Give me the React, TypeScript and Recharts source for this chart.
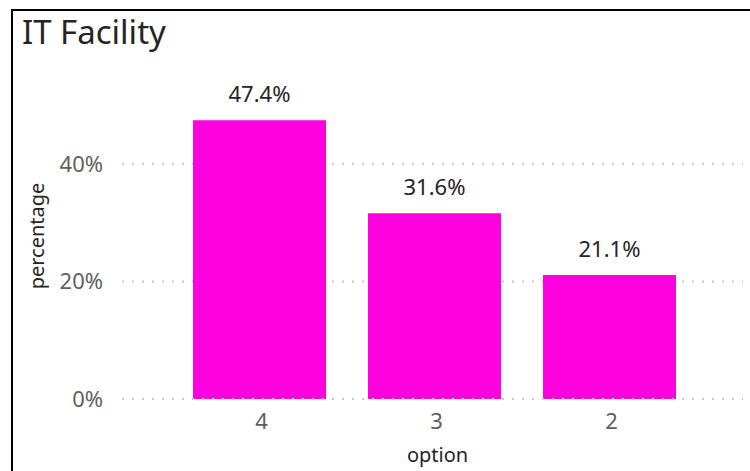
import { BarChart, Bar, XAxis, YAxis, CartesianGrid, LabelList, ReferenceLine } from "recharts";

const OPTIONS = ["4", "3", "2"];
const PERCENTAGES = [47.4, 31.6, 21.1];
const Y_TICKS = [0, 20, 40];

const FONT = "'Segoe UI', 'Noto Sans', sans-serif";
const BAR_COLOR = "#FF00DE";
const GRID_COLOR = "#c8c8c8";

const data = OPTIONS.map((option, i) => ({ option, percentage: PERCENTAGES[i] }));

const YTitle = () => (
  <text
    x={44}
    y={236}
    transform="rotate(-90 44 236)"
    textAnchor="middle"
    fill="#252423"
    fontSize={20}
    fontFamily={FONT}
  >
    percentage
  </text>
);

const App = () => {
  return (
    <div style={{ position: "absolute", left: 0, top: 0, width: 750, height: 471, overflow: "hidden", background: "#fff", fontFamily: FONT }}>
      <div style={{ position: "absolute", left: 11, top: 9, width: 800, height: 500, border: "2px solid #000" }} />
      <div style={{ position: "absolute", left: 22, top: 16, fontSize: 33, lineHeight: "32px", color: "#252423" }}>IT Facility</div>
      <div style={{ position: "absolute", left: 0, top: 0 }}>
        <BarChart width={750} height={471} data={data} margin={{ top: 105, right: 7, bottom: 0, left: 0 }} barCategoryGap="12%">
          <CartesianGrid
            vertical={false}
            horizontalValues={Y_TICKS}
            stroke={GRID_COLOR}
            strokeWidth={2}
            strokeDasharray="2 8"
          />
          <XAxis
            dataKey="option"
            height={72}
            axisLine={false}
            tickLine={false}
            tickSize={6}
            tickMargin={8}
            padding={{ left: 50, right: 46 }}
            tick={{ fill: "#605E5C", fontSize: 22, fontFamily: FONT, dx: 2 }}
            label={{ value: "option", position: "insideBottom", offset: 9, dx: 5, fill: "#252423", fontSize: 20, fontFamily: FONT }}
          />
          <YAxis
            width={122}
            domain={[0, 50]}
            ticks={Y_TICKS}
            axisLine={false}
            tickLine={false}
            tickSize={6}
            tickMargin={13}
            tickFormatter={(v: number) => `${v}%`}
            tick={{ fill: "#605E5C", fontSize: 22, fontFamily: FONT }}
            label={{ content: () => <YTitle /> }}
          />
          <Bar dataKey="percentage" fill={BAR_COLOR} isAnimationActive={false}>
            <LabelList
              dataKey="percentage"
              position="top"
              offset={18}
              formatter={(v: number) => `${v.toFixed(1)}%`}
              style={{ fill: "#252423", fontSize: 22, fontFamily: FONT }}
            />
          </Bar>
          <ReferenceLine y={0} stroke={GRID_COLOR} strokeWidth={2} strokeDasharray="2 8" />
        </BarChart>
      </div>
    </div>
  );
};

export default App;
